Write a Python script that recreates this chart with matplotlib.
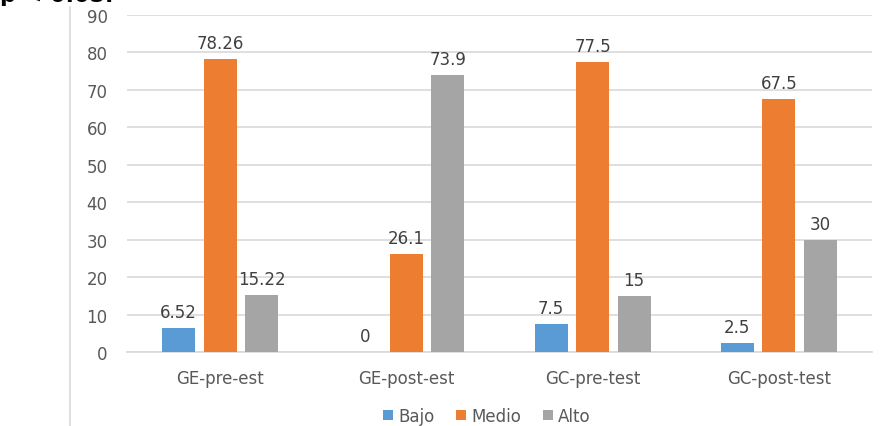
import numpy as np
import matplotlib.pyplot as plt
from matplotlib.lines import Line2D

# Datos por grupo y nivel
grupos = ["GE-pre-est", "GE-post-est", "GC-pre-test", "GC-post-test"]
bajo = [6.52, 0, 7.5, 2.5]
medio = [78.26, 26.1, 77.5, 67.5]
alto = [15.22, 73.9, 15, 30]
series = [("Bajo", bajo, "#5B9BD5"), ("Medio", medio, "#ED7D31"), ("Alto", alto, "#A5A5A5")]

texto = "#595959"
tam = 12
fig = plt.figure(figsize=(8.82, 4.27), dpi=100)
ax = fig.add_axes([127 / 882, (427 - 353) / 427, 745 / 882, 337 / 427])

x = np.arange(len(grupos))
ancho = 0.177
paso = 0.223
for i, (nombre, vals, color) in enumerate(series):
    pos = x + (i - 1) * paso
    barras = ax.bar(pos, vals, width=ancho, color=color, label=nombre, zorder=3)
    for b, v in zip(barras, vals):
        ax.annotate(f"{v:g}", (b.get_x() + b.get_width() / 2, v),
                    xytext=(0, 5), textcoords="offset points",
                    ha="center", va="bottom", fontsize=tam, color="#404040")

ax.set_xlim(-0.5, len(grupos) - 0.5)
ax.set_ylim(0, 90)
ax.set_yticks(range(0, 91, 10))
ax.set_xticks(x)
ax.set_xticklabels(grupos)
ax.yaxis.grid(True, color="#D9D9D9", linewidth=1.2, zorder=0)
for s in ax.spines.values():
    s.set_visible(False)
ax.spines["bottom"].set_visible(True)
ax.spines["bottom"].set_color("#D9D9D9")
ax.spines["bottom"].set_linewidth(1.2)
ax.tick_params(axis="both", length=0, labelsize=tam, labelcolor=texto)
ax.tick_params(axis="y", pad=14)
ax.tick_params(axis="x", pad=12)

fig.legend(loc="center", bbox_to_anchor=(487 / 882, 1 - 417 / 427), ncol=3,
           frameon=False, fontsize=tam, handlelength=0.6, handleheight=0.6,
           handletextpad=0.3, columnspacing=1.3, labelcolor=texto)

# línea de borde a la izquierda
fig.add_artist(Line2D([70 / 882, 70 / 882], [0, 1 - 8 / 427],
                      color="#D9D9D9", linewidth=1.2))
# encabezado cortado en la parte superior
fig.text(0.0, 1 - 2 / 427, "p < 0.05.", fontsize=16, fontweight="bold",
         color="black", ha="left", va="baseline")

fig.savefig("out.png", dpi=100)
